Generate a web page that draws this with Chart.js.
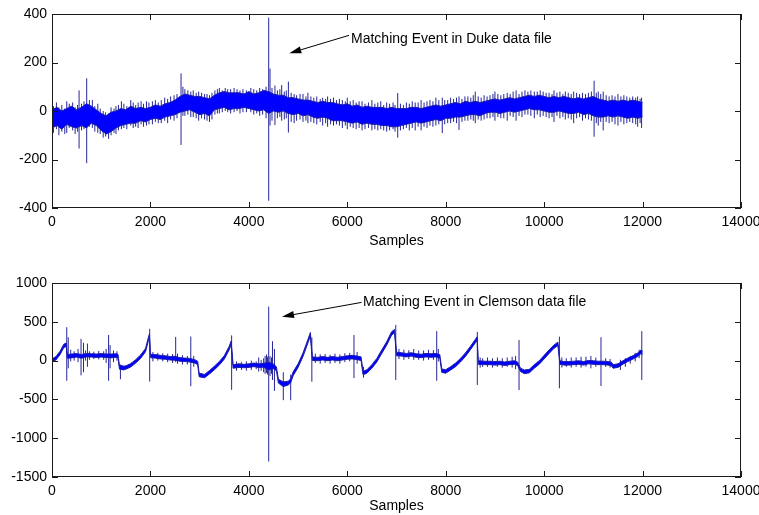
<!DOCTYPE html>
<html>
<head>
<meta charset="utf-8">
<script src="https://cdn.jsdelivr.net/npm/chart.js@4.4.0/dist/chart.umd.min.js"></script>
<style>
  html, body { margin: 0; padding: 0; background: #fff; }
  #wrap { width: 759px; height: 515px; }
  canvas { display: block; }
</style>
</head>
<body>
<div id="wrap">
  <canvas id="duke" width="759" height="258"></canvas>
  <canvas id="clemson" width="759" height="257"></canvas>
</div>
<script>
// ---- Duke record: dense noise band (upper / lower edge every 100 samples) ----
const dukeSamples = [
  0,100,200,300,400,500,600,700,800,900,
  1000,1100,1200,1300,1400,1500,1600,1700,1800,1900,
  2000,2100,2200,2300,2400,2500,2600,2700,2800,2900,
  3000,3100,3200,3300,3400,3500,3600,3700,3800,3900,
  4000,4100,4200,4300,4400,4500,4600,4700,4800,4900,
  5000,5100,5200,5300,5400,5500,5600,5700,5800,5900,
  6000,6100,6200,6300,6400,6500,6600,6700,6800,6900,
  7000,7100,7200,7300,7400,7500,7600,7700,7800,7900,
  8000,8100,8200,8300,8400,8500,8600,8700,8800,8900,
  9000,9100,9200,9300,9400,9500,9600,9700,9800,9900,
  10000,10100,10200,10300,10400,10500,10600,10700,10800,10900,
  11000,11100,11200,11300,11400,11500,11600,11700,11800,11900,
  12000
];
const dukeHigh = [
  5,15,0,10,20,5,15,30,20,5,
  -10,-20,-5,0,10,5,20,10,15,10,
  15,25,20,30,35,45,60,70,65,60,
  60,55,50,65,75,80,75,75,75,70,
  80,70,75,85,80,70,65,65,55,55,
  50,45,45,40,35,40,35,35,30,25,
  30,20,25,15,20,15,15,15,10,15,
  10,10,10,15,15,10,15,20,25,20,
  25,30,35,30,40,35,40,35,40,45,
  50,45,50,55,50,55,60,65,60,65,
  60,55,60,55,60,55,50,55,50,55,
  60,50,45,40,45,40,45,40,45,40,
  35
];
const dukeLow = [
  -70,-60,-75,-55,-65,-70,-60,-70,-50,-60,
  -80,-95,-85,-70,-60,-55,-50,-50,-40,-45,
  -35,-30,-35,-25,-20,-15,-5,0,5,-5,
  -15,-10,-20,5,10,15,5,10,10,15,
  10,5,0,5,-10,0,-5,0,-10,-15,
  -10,-20,-15,-25,-30,-25,-30,-40,-40,-40,
  -45,-50,-45,-55,-50,-55,-55,-60,-60,-65,
  -65,-60,-55,-50,-45,-50,-45,-40,-35,-40,
  -30,-30,-25,-25,-20,-15,-15,-20,-10,-5,
  -5,-10,-5,0,-5,0,5,10,5,5,
  0,-5,-5,0,-5,-10,-10,-5,-15,-10,
  -20,-25,-25,-20,-25,-20,-25,-30,-25,-30,
  -25
];
// hair-like excursions sticking out of the band (sample, top, bottom)
const dukeSpikeX = [
  30,90,140,200,260,300,350,420,470,520,550,600,650,705,760,820,870,930,980,
  1040,1090,1150,1200,1260,1300,1350,1410,1460,1520,1600,1650,1700,1750,1810,1860,1920,1970,
  2040,2100,2160,2220,2290,2350,2410,2480,2540,2622,2660,2700,2760,2820,2870,2930,2980,
  3040,3100,3150,3200,3250,3310,3360,3400,3460,3520,3570,3630,3700,3760,3820,3880,3950,
  4040,4100,4160,4220,4280,4350,4403,4430,4470,4530,4580,4630,4667,4720,4760,4803,4860,4920,4970,
  5040,5100,5160,5200,5260,5320,5380,5450,5500,5560,5600,5660,5720,5780,5840,5900,5960,
  6000,6060,6120,6180,6240,6300,6360,6430,6500,6560,6620,6680,6740,6800,6860,6930,6970,
  7025,7080,7140,7200,7260,7320,7380,7440,7500,7560,7620,7680,7740,7800,7860,7930,7980,
  8040,8100,8160,8220,8270,8330,8390,8450,8510,8560,8600,8660,8720,8780,8840,8900,8960,
  9000,9060,9120,9180,9250,9310,9370,9430,9490,9550,9610,9670,9730,9800,9860,9920,9980,
  10040,10100,10160,10200,10260,10320,10380,10430,10490,10550,10600,10660,10720,10780,10840,10900,10960,
  11015,11060,11100,11150,11200,11260,11320,11380,11440,11500,11560,11620,11680,11740,11800,11860,11900,11950,11980
];
const dukeSpikeHigh = [
  20,35,15,25,10,40,30,35,15,25,85,30,40,135,45,45,20,30,10,
  0,-5,-10,15,10,20,25,40,30,20,45,35,25,35,40,30,40,35,
  40,45,35,45,55,50,60,65,70,155,100,90,85,80,85,75,80,
  75,70,70,65,75,85,90,95,85,95,90,90,95,90,85,90,85,
  95,90,85,95,90,100,385,175,95,105,85,90,107,80,85,121,75,70,65,
  70,70,60,75,60,55,60,50,55,50,60,50,55,45,50,45,40,
  55,40,45,35,40,40,30,35,45,30,35,40,25,35,30,35,25,
  74,30,25,35,30,40,35,35,45,35,40,45,40,55,45,55,45,
  45,55,50,55,60,50,60,60,55,65,80,60,55,65,60,65,70,
  80,70,65,70,75,70,80,85,70,80,85,80,85,80,80,85,80,
  75,75,70,85,75,80,70,80,75,70,80,75,70,75,70,75,80,
  125,75,80,70,80,65,60,65,60,70,60,65,60,55,60,55,60,50,55
];
const dukeSpikeLow = [
  -90,-75,-100,-85,-95,-90,-70,-80,-95,-85,-155,-80,-75,-215,-65,-70,-85,-90,-95,
  -110,-105,-115,-100,-90,-95,-80,-75,-70,-75,-60,-70,-65,-70,-55,-65,-60,-55,
  -55,-45,-50,-50,-40,-50,-35,-40,-30,-140,-20,-20,-15,-25,-25,-30,-40,
  -30,-35,-40,-45,-35,-15,-10,-10,-5,0,-5,-10,-5,0,-10,-5,-5,
  -5,-15,-10,-20,-15,-30,-370,-60,-40,-58,-30,-25,-40,-35,-30,-89,-45,-50,-40,
  -35,-45,-40,-50,-45,-50,-55,-45,-60,-50,-65,-55,-60,-55,-60,-70,-60,
  -75,-65,-70,-75,-70,-80,-75,-70,-80,-75,-80,-75,-80,-85,-80,-75,-85,
  -110,-80,-75,-70,-80,-70,-80,-65,-80,-65,-70,-60,-65,-60,-55,-91,-55,
  -50,-50,-45,-50,-78,-45,-40,-40,-35,-40,-50,-35,-40,-35,-30,-30,-25,
  -40,-25,-30,-30,-40,-20,-25,-40,-20,-25,-15,-15,-20,-30,-15,-25,-20,
  -25,-30,-25,-45,-20,-30,-25,-35,-30,-35,-50,-30,-25,-40,-30,-35,-40,
  -106,-50,-60,-45,-80,-45,-50,-45,-55,-60,-45,-55,-50,-45,-50,-55,-65,-50,-70
];

// ---- Clemson record: band edges at irregular samples (steps and ramps) ----
const clemSamples = [
  0,80,160,240,290,310,400,500,600,700,800,900,1000,1100,1200,1300,1340,1370,1450,1500,
  1600,1700,1800,1900,1960,1980,2000,2100,2200,2300,2400,2500,2600,2700,2800,2900,2960,2990,3100,3200,
  3300,3400,3500,3600,3640,3680,3800,3900,4000,4100,4200,4300,4400,4500,4560,4600,4700,4800,4850,4900,
  5000,5100,5200,5250,5290,5400,5500,5600,5700,5800,5900,6000,6100,6200,6280,6320,6400,6500,6600,6700,
  6800,6900,6960,7000,7100,7200,7300,7400,7500,7600,7700,7800,7880,7920,8000,8100,8200,8300,8400,8500,
  8600,8640,8660,8800,8900,9000,9100,9200,9300,9400,9460,9520,9600,9700,9800,9900,10000,10100,10200,10280,
  10320,10400,10500,10600,10700,10800,10900,11000,11100,11200,11300,11370,11400,11500,11600,11700,11800,11900,11970,12000
];
const clemHigh = [
  22,52,117,212,227,80,85,90,80,92,88,85,90,85,85,88,82,-60,-70,-68,
  -38,12,72,157,302,347,82,78,68,62,52,55,38,32,28,12,-8,-162,-178,-128,
  -72,-12,62,182,252,-52,-42,-48,-42,-32,-42,-35,-20,-45,-80,-240,-275,-265,-235,-145,
  -42,98,272,362,48,42,52,42,52,42,52,62,68,58,48,-138,-118,-52,28,138,
  242,372,402,108,102,92,102,88,82,92,88,92,78,-108,-118,-78,-32,28,98,182,
  272,307,-2,-8,-8,-12,-8,-18,-8,-2,-18,-98,-122,-112,-52,-2,68,138,202,238,
  -2,-12,-12,-8,-2,-12,2,-2,-8,-8,-12,-22,-52,-42,-2,32,62,98,138,122
];
const clemLow = [
  -22,8,73,168,183,30,35,45,30,48,45,40,45,40,35,42,38,-110,-120,-112,
  -82,-32,28,113,258,303,38,32,22,18,8,5,-8,-12,-18,-32,-52,-208,-222,-172,
  -118,-58,18,138,208,-98,-88,-92,-88,-78,-88,-85,-120,-105,-130,-290,-335,-315,-285,-195,
  -88,52,228,318,2,-2,8,-2,8,-2,8,18,22,12,2,-182,-162,-98,-18,92,
  198,328,358,62,58,48,58,42,38,48,42,48,32,-152,-162,-122,-78,-18,52,138,
  228,263,-48,-52,-52,-58,-52,-62,-52,-48,-62,-142,-168,-158,-98,-48,22,92,158,192,
  -48,-58,-58,-52,-48,-58,-42,-48,-52,-52,-58,-68,-98,-88,-48,-12,18,52,92,78
];
// sharp transients (sample, top, bottom)
const clemSpikeX = [
  300,330,590,640,720,1150,1180,1390,1985,2513,2820,3650,4200,4360,4403,
  4480,4520,4700,4850,5280,6136,6330,6985,7817,8642,9490,10310,11155,11984
];
const clemSpikeHigh = [
  430,300,280,230,220,330,200,-50,410,305,310,325,40,80,695,
  250,150,-150,-180,300,330,-80,460,380,370,265,308,300,380
];
const clemSpikeLow = [
  -260,-100,-190,-150,-80,-260,-100,-240,-270,-20,-330,-377,-140,-160,-1300,
  -250,-390,-510,-510,-272,-225,-220,-250,-260,-314,-380,-357,-327,-250
];
// small noise hairs on the flat stretches
const clemNoiseX = [
  380,450,530,680,760,850,950,1050,1100,1250,1320,
  2050,2150,2250,2350,2450,2550,2650,2750,2880,
  3750,3850,3950,4050,4150,4250,4300,4330,4380,4430,4460,
  5350,5450,5550,5650,5750,5850,5950,6050,6200,
  7050,7150,7250,7350,7450,7550,7650,7750,7850,
  8700,8750,8850,8950,9050,9150,9250,9350,9420,
  10360,10450,10550,10650,10750,10850,10950,11050,11250,11340,
  11550,11650,11750,11850,11930
];
const clemNoiseHigh = [
  140,120,150,130,120,115,125,120,150,130,120,
  110,100,95,90,85,90,70,60,60,
  -10,-20,-10,0,-10,10,30,60,50,60,40,
  90,80,85,75,90,80,95,100,110,
  150,140,135,150,130,130,140,135,150,
  40,30,40,30,40,30,40,50,60,
  40,30,40,40,50,50,60,40,30,20,
  10,30,60,100,140
];
const clemNoiseLow = [
  -10,0,-20,0,10,20,15,10,-30,-20,0,
  -10,0,-10,-20,-30,-40,-50,-50,-80,
  -130,-120,-130,-120,-110,-130,-150,-170,-180,-200,-170,
  -30,-40,-30,-40,-30,-40,-20,-10,-40,
  20,10,20,10,10,0,10,10,-10,
  -90,-80,-80,-90,-80,-90,-80,-90,-110,
  -90,-80,-90,-80,-90,-80,-100,-80,-80,-90,
  -120,-80,-40,-10,30
];

const sampleTicks = { min: 0, max: 14000, step: 2000 };
const dukeTicks = { min: -400, max: 400, step: 200 };
const clemTicks = { min: -1500, max: 1000, step: 500 };

const BAND = '#0000ff';
const EDGE = '#1d1da8';
const SPIKE = '#25259a';
const FONT = { family: "'Liberation Sans', Arial, sans-serif", size: 14 };

function toPoints(xs, ys) {
  return xs.map((x, i) => ({ x: x, y: ys[i] }));
}

function spikePoints(xs, hi, lo) {
  const pts = [];
  xs.forEach((x, i) => {
    pts.push({ x: x, y: lo[i] });
    pts.push({ x: x, y: hi[i] });
    pts.push({ x: x, y: null });
  });
  return pts;
}

// MATLAB style axes box with inward ticks, plus the text arrow annotation
const matlabAxes = {
  id: 'matlabAxes',
  afterDatasetsDraw(chart, args, opts) {
    const { ctx, chartArea: a, scales: { x, y } } = chart;
    ctx.save();
    ctx.strokeStyle = '#1a1a1a';
    ctx.lineWidth = 1;
    ctx.strokeRect(a.left + 0.5, a.top + 0.5, a.right - a.left - 1, a.bottom - a.top - 1);
    ctx.beginPath();
    x.ticks.forEach(t => {
      const px = Math.round(x.getPixelForValue(t.value)) + 0.5;
      ctx.moveTo(px, a.bottom); ctx.lineTo(px, a.bottom - 6);
      ctx.moveTo(px, a.top); ctx.lineTo(px, a.top + 6);
    });
    y.ticks.forEach(t => {
      const py = Math.round(y.getPixelForValue(t.value)) + 0.5;
      ctx.moveTo(a.left, py); ctx.lineTo(a.left + 6, py);
      ctx.moveTo(a.right, py); ctx.lineTo(a.right - 6, py);
    });
    ctx.stroke();

    const n = opts.note;
    if (n) {
      const tx = x.getPixelForValue(n.tail[0]), ty = y.getPixelForValue(n.tail[1]);
      const hx = x.getPixelForValue(n.tip[0]), hy = y.getPixelForValue(n.tip[1]);
      const ang = Math.atan2(hy - ty, hx - tx);
      const len = 12, half = 3.5;
      const bx = hx - len * Math.cos(ang), by = hy - len * Math.sin(ang);
      ctx.strokeStyle = '#000';
      ctx.beginPath();
      ctx.moveTo(tx, ty); ctx.lineTo(bx, by);
      ctx.stroke();
      ctx.fillStyle = '#000';
      ctx.beginPath();
      ctx.moveTo(hx, hy);
      ctx.lineTo(bx + half * Math.sin(ang), by - half * Math.cos(ang));
      ctx.lineTo(bx - half * Math.sin(ang), by + half * Math.cos(ang));
      ctx.closePath();
      ctx.fill();
      ctx.font = FONT.size + 'px ' + FONT.family;
      ctx.textAlign = 'left';
      ctx.textBaseline = 'middle';
      ctx.fillText(n.text, x.getPixelForValue(n.at[0]), y.getPixelForValue(n.at[1]));
    }
    ctx.restore();
  }
};

function makeChart(id, d) {
  const datasets = [
    { data: toPoints(d.samples, d.high), borderColor: EDGE, borderWidth: 1, pointRadius: 0, fill: false },
    { data: toPoints(d.samples, d.low), borderColor: EDGE, borderWidth: 1, pointRadius: 0, fill: '-1', backgroundColor: BAND },
    { data: spikePoints(d.spikeX, d.spikeHigh, d.spikeLow), borderColor: SPIKE, borderWidth: 1, pointRadius: 0, spanGaps: false, fill: false }
  ];
  if (d.noiseX) {
    datasets.push({ data: spikePoints(d.noiseX, d.noiseHigh, d.noiseLow), borderColor: SPIKE, borderWidth: 1, pointRadius: 0, spanGaps: false, fill: false });
  }
  return new Chart(document.getElementById(id), {
    type: 'line',
    data: { datasets },
    options: {
      responsive: false,
      animation: false,
      devicePixelRatio: 1,
      events: [],
      layout: { padding: { top: d.padTop, right: 18, left: 0, bottom: 0 } },
      elements: { line: { tension: 0, borderJoinStyle: 'miter' } },
      plugins: {
        legend: { display: false },
        tooltip: { enabled: false },
        matlabAxes: { note: d.note }
      },
      scales: {
        x: {
          type: 'linear',
          min: sampleTicks.min, max: sampleTicks.max,
          grid: { display: false, drawTicks: false },
          border: { display: false },
          ticks: { stepSize: sampleTicks.step, padding: 6, maxRotation: 0, autoSkip: false, font: FONT, color: '#000', callback: v => String(v) },
          title: { display: true, text: 'Samples', font: FONT, color: '#000', padding: { top: 0, bottom: d.titlePad } },
          afterFit: s => { s.height = d.xAxisHeight; s.paddingLeft = 0; s.paddingRight = 0; }
        },
        y: {
          min: d.ticks.min, max: d.ticks.max,
          grid: { display: false, drawTicks: false },
          border: { display: false },
          ticks: { stepSize: d.ticks.step, padding: 5, font: FONT, color: '#000', callback: v => String(v) },
          afterFit: s => { s.width = 52; }
        }
      }
    },
    plugins: [matlabAxes]
  });
}

makeChart('duke', {
  samples: dukeSamples, high: dukeHigh, low: dukeLow,
  spikeX: dukeSpikeX, spikeHigh: dukeSpikeHigh, spikeLow: dukeSpikeLow,
  ticks: dukeTicks, padTop: 14, xAxisHeight: 50, titlePad: 8,
  note: { text: 'Matching Event in Duke data file', at: [6076, 298], tail: [6035, 312], tip: [4822, 238] }
});

makeChart('clemson', {
  samples: clemSamples, high: clemHigh, low: clemLow,
  spikeX: clemSpikeX, spikeHigh: clemSpikeHigh, spikeLow: clemSpikeLow,
  noiseX: clemNoiseX, noiseHigh: clemNoiseHigh, noiseLow: clemNoiseLow,
  ticks: clemTicks, padTop: 25, xAxisHeight: 38, titlePad: 0,
  note: { text: 'Matching Event in Clemson data file', at: [6320, 755], tail: [6290, 750], tip: [4674, 566] }
});
</script>
</body>
</html>
